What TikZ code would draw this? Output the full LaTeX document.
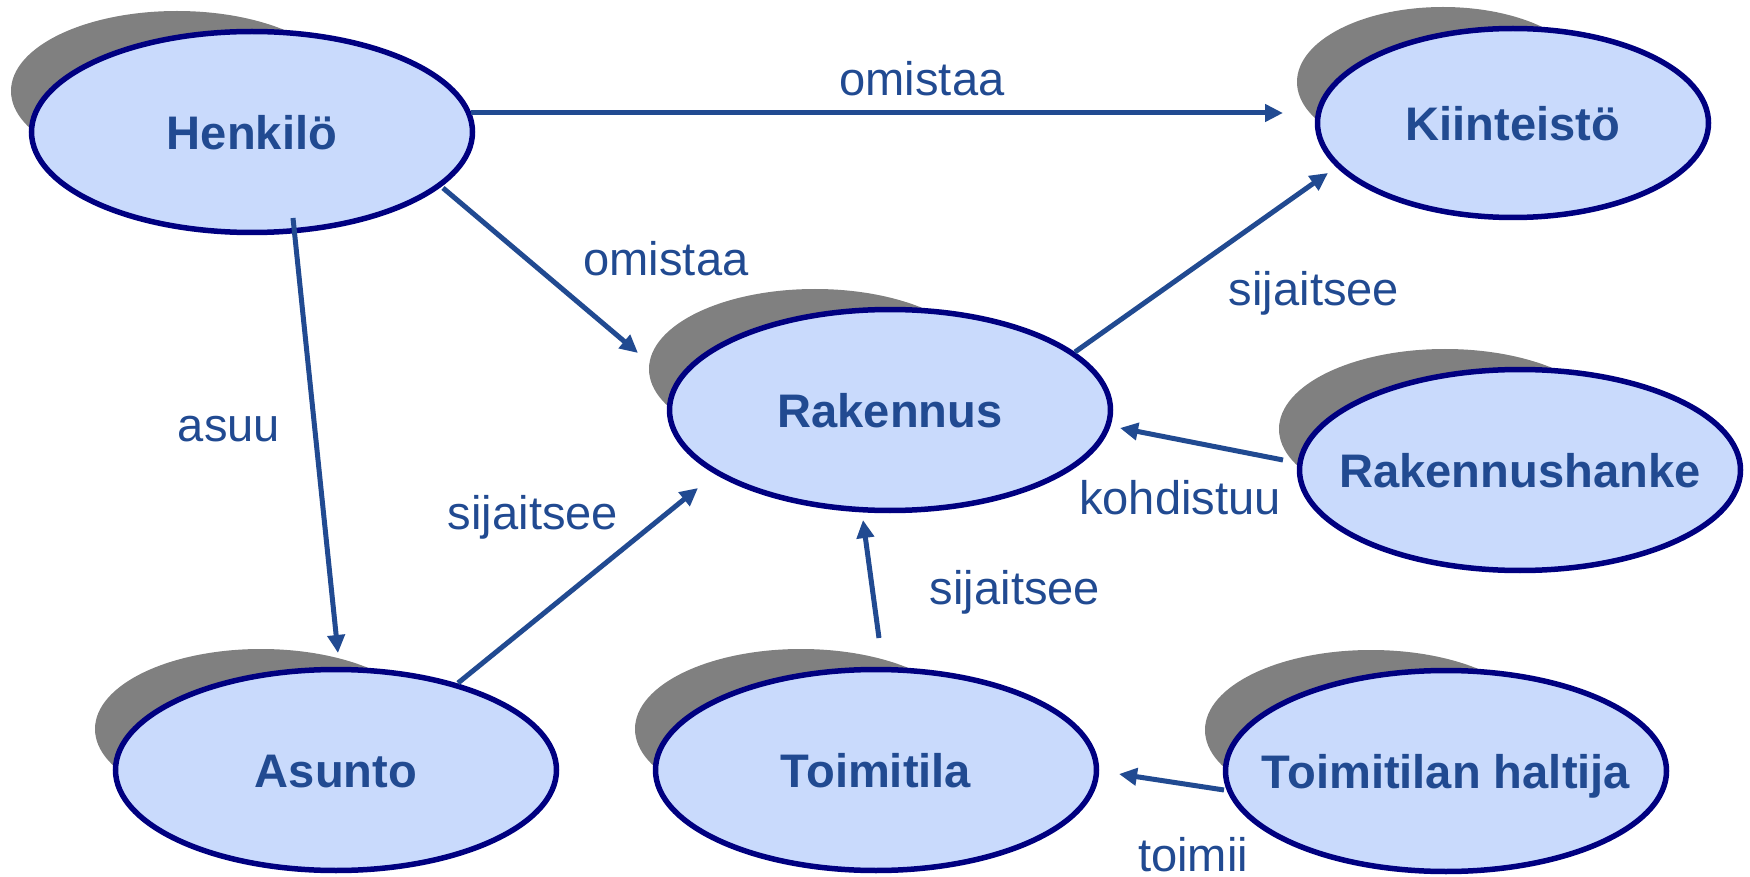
\documentclass[tikz,border=0pt]{standalone}
\usepackage{fontspec}
\setmainfont{Liberation Sans}
\usetikzlibrary{arrows.meta,backgrounds,shapes.geometric}
\definecolor{entfill}{RGB}{201,218,252}
\definecolor{entline}{RGB}{0,0,128}
\definecolor{txtblue}{RGB}{33,74,145}
\definecolor{shadowgray}{RGB}{128,128,128}
\begin{document}
\begin{tikzpicture}[x=0.1mm, y=-0.1mm,
    link/.style={draw=txtblue, line width=0.5mm, -{Triangle[length=1.8mm, width=1.7mm]}},
    rel/.style={text=txtblue, anchor=base, font=\fontsize{13.4}{16}\selectfont}]
    \useasboundingbox (0, 0) rectangle (1750, 877);
    \begin{scope}[every node/.style={ellipse, draw=entline, fill=entfill, line width=0.55mm,
        inner sep=0pt, minimum width=44.1mm, minimum height=20.1mm,
        text height=9.7pt, text depth=0pt, text=txtblue,
        font=\fontsize{13.4}{16}\selectfont\bfseries}]
      \node (henkilo) at (252, 132) {\makebox[0pt]{Henkilö}};
      \node[minimum width=39.1mm, minimum height=18.9mm] (kiinteisto) at (1513, 123) {\makebox[0pt]{Kiinteistö}};
      \node (rakennus) at (890, 410) {\makebox[0pt]{Rakennus}};
      \node (hanke) at (1520, 470) {\makebox[0pt]{Rakennushanke}};
      \node (asunto) at (336, 770) {\makebox[0pt]{Asunto}};
      \node (toimitila) at (876, 770) {\makebox[0pt]{Toimitila}};
      \node (haltija) at (1446, 771) {\makebox[0pt]{Toimitilan haltija}};
    \end{scope}
    \begin{scope}[on background layer]
      \foreach \n in {henkilo, rakennus, hanke, asunto, toimitila, haltija}
        \fill[shadowgray] ([shift={(-75,-41)}]\n.center) ellipse [x radius=166, y radius=80];
      \fill[shadowgray] ([shift={(-70,-41)}]kiinteisto.center) ellipse [x radius=146, y radius=75];
    \end{scope}

    \draw[link] ([shift={(219,-19)}]henkilo.center) -- ([shift={(-230,-10)}]kiinteisto.center);
    \draw[link] ([shift={(191,56)}]henkilo.center) -- ([shift={(-252,-57)}]rakennus.center);
    \draw[link] ([shift={(41,86)}]henkilo.center) -- ([shift={(2,-117)}]asunto.center);
    \draw[link] ([shift={(185,-58)}]rakennus.center) -- ([shift={(-185,50)}]kiinteisto.center);
    \draw[link] ([shift={(122,-87)}]asunto.center) -- ([shift={(-192,78)}]rakennus.center);
    \draw[link] ([shift={(3,-132)}]toimitila.center) -- ([shift={(-27,110)}]rakennus.center);
    \draw[link] ([shift={(-237,-10)}]hanke.center) -- ([shift={(230,18)}]rakennus.center);
    \draw[link] ([shift={(-222,19)}]haltija.center) -- ([shift={(243,4)}]toimitila.center);

    \node[rel] (omistaa1) at (922, 96) {omistaa};
    \node[rel] (omistaa2) at (666, 276) {omistaa};
    \node[rel] (asuu) at (229, 442) {asuu};
    \node[rel] (sijaitsee1) at (533, 529) {sijaitsee};
    \node[rel] (sijaitsee2) at (1314, 305) {sijaitsee};
    \node[rel] (kohdistuu) at (1180, 514) {kohdistuu};
    \node[rel] (sijaitsee3) at (1015, 604) {sijaitsee};
    \node[rel] (toimii) at (1193, 871) {toimii};
  \end{tikzpicture}
\end{document}
